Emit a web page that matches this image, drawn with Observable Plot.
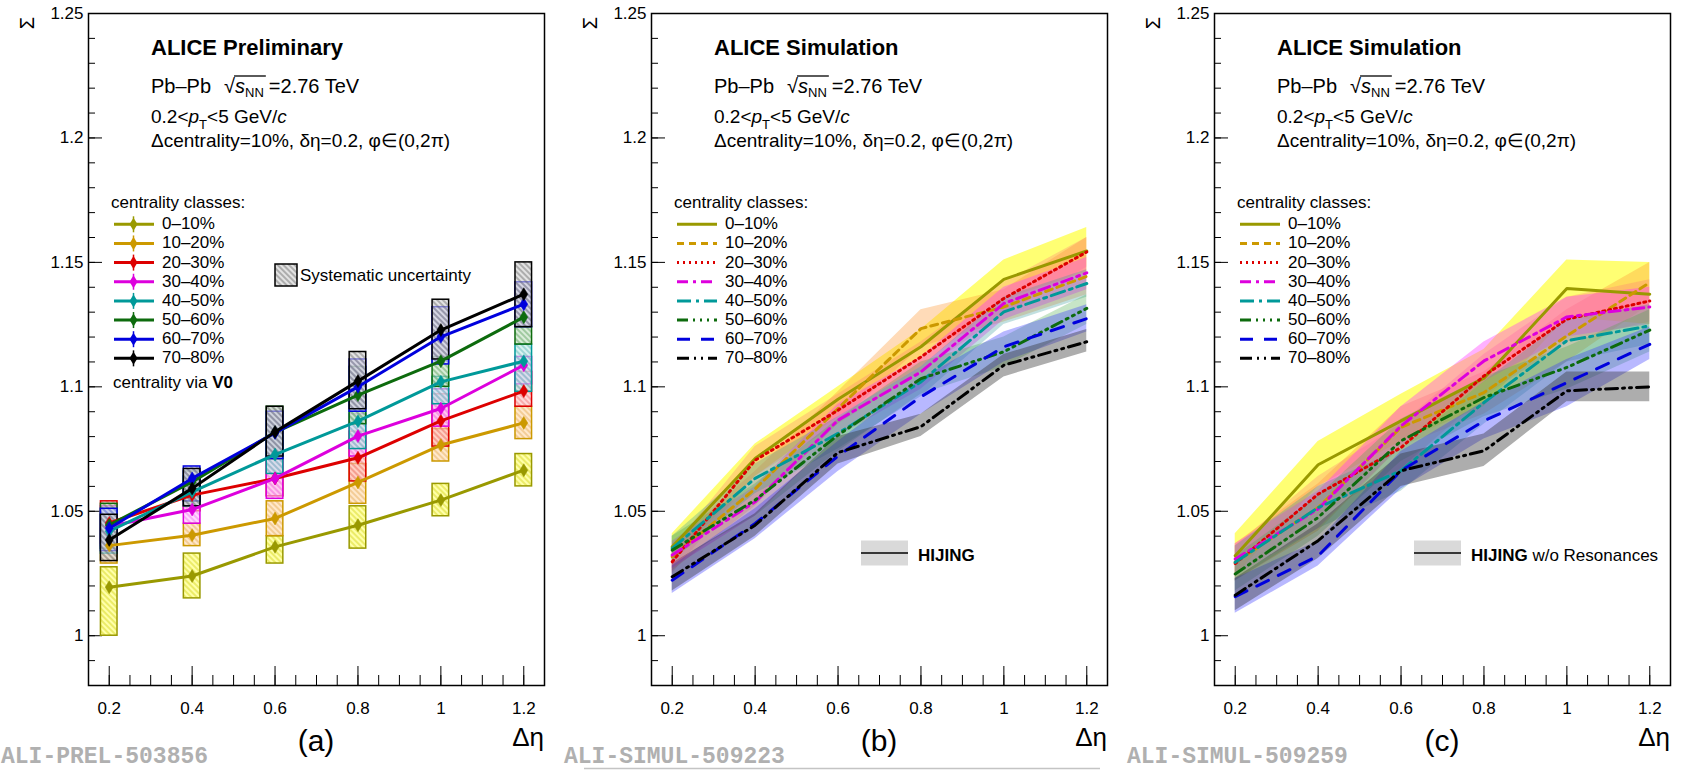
<!DOCTYPE html>
<html>
<head>
<meta charset="utf-8">
<script src="https://cdn.jsdelivr.net/npm/d3@7"></script>
<script src="https://cdn.jsdelivr.net/npm/@observablehq/plot@0.6"></script>
<style>
  body { margin: 0; background: #fff; }
  #root { position: relative; width: 1690px; height: 771px; overflow: hidden; background: #fff; }
  .panel { position: absolute; top: 0; }
  .panel svg { display: block; }
</style>
</head>
<body>
<svg width="0" height="0" style="position:absolute"><defs id="defs"></defs></svg>
<div id="root"></div>
<script>
// ---------------- data ----------------
const deltaEta = [0.2, 0.4, 0.6, 0.8, 1.0, 1.2];
const classes = ["0–10%", "10–20%", "20–30%", "30–40%", "40–50%", "50–60%", "60–70%", "70–80%"];

const xTickValues = [0.2, 0.4, 0.6, 0.8, 1, 1.2];
const xTickLabels = ["0.2", "0.4", "0.6", "0.8", "1", "1.2"];
const yTickValues = [1, 1.05, 1.1, 1.15, 1.2, 1.25];
const yTickLabels = ["1", "1.05", "1.1", "1.15", "1.2", "1.25"];

// (a) ALICE Preliminary: Sigma vs delta-eta, one row per centrality class
const aValues = [
  [1.0195, 1.0240, 1.0357, 1.0444, 1.0545, 1.0665],
  [1.0362, 1.0404, 1.0471, 1.0616, 1.0766, 1.0855],
  [1.0453, 1.0565, 1.0632, 1.0715, 1.0863, 1.0983],
  [1.0440, 1.0507, 1.0632, 1.0802, 1.0913, 1.1087],
  [1.0420, 1.0578, 1.0728, 1.0862, 1.1020, 1.1103],
  [1.0445, 1.0618, 1.0817, 1.0967, 1.1103, 1.1280],
  [1.0432, 1.0632, 1.0815, 1.1000, 1.1201, 1.1332],
  [1.0385, 1.0592, 1.0819, 1.1023, 1.1228, 1.1372]
];
// (a) systematic uncertainty boxes, lower / upper edges
const aSysLo = [
  [1.000, 1.015, 1.029, 1.035, 1.048, 1.060],
  [1.029, 1.036, 1.040, 1.053, 1.070, 1.079],
  [1.037, 1.050, 1.056, 1.062, 1.076, 1.092],
  [1.036, 1.045, 1.055, 1.072, 1.084, 1.101],
  [1.033, 1.052, 1.065, 1.075, 1.093, 1.098],
  [1.035, 1.054, 1.071, 1.085, 1.100, 1.117],
  [1.034, 1.054, 1.071, 1.090, 1.109, 1.124],
  [1.030, 1.052, 1.072, 1.091, 1.111, 1.124]
];
const aSysHi = [
  [1.0275, 1.033, 1.040, 1.052, 1.061, 1.073],
  [1.043, 1.045, 1.054, 1.069, 1.083, 1.092],
  [1.054, 1.062, 1.071, 1.082, 1.097, 1.106],
  [1.052, 1.054, 1.071, 1.089, 1.099, 1.112],
  [1.051, 1.064, 1.080, 1.090, 1.104, 1.117],
  [1.053, 1.066, 1.092, 1.108, 1.112, 1.124],
  [1.051, 1.068, 1.090, 1.111, 1.132, 1.142],
  [1.0486, 1.067, 1.092, 1.114, 1.135, 1.150]
];

// (b) HIJING
const bValues = [
  [1.0357, 1.0712, 1.0950, 1.1161, 1.1432, 1.1546],
  [1.0317, 1.0590, 1.0913, 1.1234, 1.1321, 1.1444],
  [1.0297, 1.0705, 1.0906, 1.1120, 1.1355, 1.1542],
  [1.0324, 1.0538, 1.0866, 1.1060, 1.1335, 1.1458],
  [1.0351, 1.0632, 1.0813, 1.1020, 1.1301, 1.1415],
  [1.0344, 1.0545, 1.0806, 1.1033, 1.1141, 1.1315],
  [1.0223, 1.0451, 1.0722, 1.0960, 1.1161, 1.1274],
  [1.0237, 1.0444, 1.0736, 1.0840, 1.1087, 1.1181]
];
const bBandLo = [
  [1.030, 1.064, 1.088, 1.108, 1.135, 1.146],
  [1.026, 1.052, 1.085, 1.116, 1.126, 1.137],
  [1.025, 1.064, 1.085, 1.106, 1.129, 1.148],
  [1.027, 1.048, 1.080, 1.099, 1.127, 1.139],
  [1.030, 1.057, 1.075, 1.096, 1.125, 1.136],
  [1.029, 1.048, 1.074, 1.097, 1.108, 1.125],
  [1.017, 1.039, 1.066, 1.089, 1.110, 1.122],
  [1.018, 1.040, 1.069, 1.080, 1.104, 1.114]
];
const bBandHi = [
  [1.041, 1.077, 1.100, 1.123, 1.151, 1.164],
  [1.037, 1.066, 1.098, 1.131, 1.139, 1.160],
  [1.035, 1.076, 1.097, 1.118, 1.142, 1.160],
  [1.038, 1.060, 1.093, 1.112, 1.140, 1.152],
  [1.040, 1.069, 1.088, 1.108, 1.136, 1.147],
  [1.040, 1.061, 1.087, 1.110, 1.120, 1.137],
  [1.028, 1.051, 1.078, 1.103, 1.122, 1.133],
  [1.029, 1.049, 1.080, 1.089, 1.113, 1.123]
];

// (c) HIJING w/o Resonances
const cValues = [
  [1.0321, 1.0687, 1.0863, 1.1035, 1.1395, 1.1372],
  [1.0295, 1.0515, 1.0837, 1.0977, 1.1205, 1.1419],
  [1.0290, 1.0569, 1.0756, 1.1044, 1.1272, 1.1345],
  [1.0308, 1.0509, 1.0843, 1.1104, 1.1281, 1.1321],
  [1.0295, 1.0515, 1.0663, 1.0937, 1.1185, 1.1245],
  [1.0248, 1.0475, 1.0783, 1.0957, 1.1078, 1.1228],
  [1.0157, 1.0321, 1.0663, 1.0863, 1.1017, 1.1171],
  [1.0163, 1.0382, 1.0663, 1.0743, 1.0984, 1.1000]
];
const cBandLo = [
  [1.024, 1.060, 1.078, 1.092, 1.128, 1.125],
  [1.022, 1.042, 1.076, 1.089, 1.110, 1.133],
  [1.022, 1.048, 1.067, 1.096, 1.118, 1.126],
  [1.024, 1.043, 1.076, 1.102, 1.120, 1.125],
  [1.022, 1.043, 1.058, 1.085, 1.110, 1.117],
  [1.018, 1.040, 1.070, 1.088, 1.099, 1.114],
  [1.009, 1.028, 1.059, 1.079, 1.092, 1.111],
  [1.010, 1.031, 1.060, 1.068, 1.094, 1.094]
];
const cBandHi = [
  [1.041, 1.078, 1.097, 1.115, 1.151, 1.150],
  [1.037, 1.061, 1.092, 1.106, 1.131, 1.150],
  [1.036, 1.064, 1.085, 1.113, 1.136, 1.143],
  [1.037, 1.058, 1.092, 1.118, 1.136, 1.140],
  [1.036, 1.060, 1.075, 1.102, 1.127, 1.133],
  [1.032, 1.056, 1.087, 1.104, 1.116, 1.131],
  [1.023, 1.038, 1.074, 1.094, 1.111, 1.124],
  [1.023, 1.045, 1.073, 1.081, 1.106, 1.106]
];

// ---------------- styles ----------------
const FONT = '"Liberation Sans", Arial, Helvetica, sans-serif';
const lineColors = ["#999900", "#cc9900", "#dd0000", "#dd00dd", "#009999", "#0d6b0d", "#0000dd", "#000000"];
const hatchBg    = ["#ffff70", "#ffd9a8", "#ffc0c0", "#ffc0ff", "#c0e8e8", "#c0e0c0", "#c8c8ff", "#d0d0d0"];
const hatchLine  = ["#cccc00", "#e0a040", "#ee6060", "#ee60ee", "#40aaaa", "#409040", "#5050ee", "#555555"];
const bandColors = ["#ffff00", "#ff9933", "#ff7777", "#ff33ff", "#339999", "#44aa44", "#3333ff", "#333333"];
const bandOpacity = [0.55, 0.35, 0.3, 0.38, 0.3, 0.3, 0.35, 0.4];
const dashes = [null, "7,5", "2,4", "11,5,3,5", "14,5,3,5", "11,5,2,5,2,5,2,5", "13,11", "12,5,2,5,2,5"];
const boxHalf = 0.02;

// hatch patterns for systematic boxes
const defs = d3.select("#defs");
lineColors.forEach((c, i) => {
  const p = defs.append("pattern").attr("id", "hatch" + i)
    .attr("patternUnits", "userSpaceOnUse").attr("width", 4).attr("height", 4)
    .attr("patternTransform", "rotate(-45)");
  p.append("rect").attr("width", 4).attr("height", 4).attr("fill", hatchBg[i]).attr("fill-opacity", 0.6);
  p.append("line").attr("x1", 1).attr("y1", 0).attr("x2", 1).attr("y2", 4)
    .attr("stroke", hatchLine[i]).attr("stroke-width", 1.1).attr("stroke-opacity", 0.7);
});

const thinDiamond = {
  draw(ctx, size) {
    const r = Math.sqrt(size / Math.PI);
    ctx.moveTo(0, -r * 1.3); ctx.lineTo(r * 0.8, 0); ctx.lineTo(0, r * 1.3); ctx.lineTo(-r * 0.8, 0); ctx.closePath();
  }
};

function tidy(values, lo, hi) {
  const out = [];
  values.forEach((row, s) => row.forEach((v, i) => out.push({s, x: deltaEta[i], y: v, lo: lo[s][i], hi: hi[s][i]})));
  return out;
}

const yMinor = d3.range(98, 126).map(d => d / 100);
const xMinor = d3.range(3, 26).map(d => d / 20);

function axisMarks() {
  return [
    Plot.axisY(yMinor, {tickSize: -7, tickFormat: () => "", label: null}),
    Plot.axisY(yTickValues, {tickSize: -14, tickFormat: () => "", label: null}),
    Plot.axisY(yTickValues, {tickSize: 0, tickPadding: 5, tickFormat: d => yTickLabels[yTickValues.indexOf(d)], label: null, fontSize: 17}),
    Plot.axisX(xMinor, {tickSize: -10, tickFormat: () => "", label: null}),
    Plot.axisX(xTickValues, {tickSize: -19, tickFormat: () => "", label: null}),
    Plot.axisX(xTickValues, {tickSize: 0, tickPadding: 16, tickFormat: d => xTickLabels[xTickValues.indexOf(d)], label: null, fontSize: 17})
  ];
}

function makePlot(width, marks) {
  return Plot.plot({
    width, height: 771,
    marginLeft: 88, marginRight: width - 544, marginTop: 13, marginBottom: 86,
    x: {domain: [0.15, 1.25]},
    y: {domain: [0.98, 1.25]},
    style: {fontFamily: FONT, fontSize: "17px", color: "black", background: "transparent", overflow: "visible"},
    marks: [...axisMarks(), ...marks, Plot.frame({stroke: "black", strokeWidth: 1.5})]
  });
}

function panelA() {
  const data = tidy(aValues, aSysLo, aSysHi);
  const marks = [];
  classes.forEach((c, s) => {
    marks.push(Plot.rect(data.filter(d => d.s === s), {
      x1: d => d.x - boxHalf, x2: d => d.x + boxHalf, y1: "lo", y2: "hi",
      fill: `url(#hatch${s})`, stroke: lineColors[s], strokeWidth: 1.5
    }));
  });
  classes.forEach((c, s) => {
    const d = data.filter(d => d.s === s);
    marks.push(Plot.line(d, {x: "x", y: "y", stroke: lineColors[s], strokeWidth: 3}));
    marks.push(Plot.dot(d, {x: "x", y: "y", r: 5, symbol: thinDiamond, fill: lineColors[s], stroke: lineColors[s], strokeWidth: 0.5}));
  });
  return makePlot(563, marks);
}

function panelSim(width, values, lo, hi) {
  const data = tidy(values, lo, hi);
  const marks = [];
  classes.forEach((c, s) => {
    marks.push(Plot.areaY(data.filter(d => d.s === s), {x: "x", y1: "lo", y2: "hi", fill: bandColors[s], fillOpacity: bandOpacity[s]}));
  });
  classes.forEach((c, s) => {
    const opts = {x: "x", y: "y", stroke: lineColors[s], strokeWidth: 3};
    if (dashes[s]) opts.strokeDasharray = dashes[s];
    marks.push(Plot.line(data.filter(d => d.s === s), opts));
  });
  return makePlot(width, marks);
}

// ---------------- annotations ----------------
function annotate(svg, cfg) {
  const g = d3.select(svg).append("g").attr("font-family", FONT).attr("fill", "black").attr("text-anchor", "start");
  // y axis title
  g.append("text").attr("transform", "translate(27,23) rotate(-90)")
    .attr("text-anchor", "middle").attr("dominant-baseline", "central").attr("font-size", 20).text("Σ");
  // header block
  g.append("text").attr("x", 151).attr("y", 55).attr("font-size", 22).attr("font-weight", "bold").text(cfg.title);
  const t = g.append("text").attr("x", 151).attr("y", 93).attr("font-size", 20);
  t.append("tspan").text("Pb–Pb");
  t.append("tspan").attr("dx", 13).text("√");
  const s1 = t.append("tspan").attr("font-style", "italic").text("s");
  const nn = t.append("tspan").attr("font-size", 13).attr("dy", 4).text("NN");
  t.append("tspan").attr("dy", -4).attr("dx", 5).text("=2.76 TeV");
  // overline of the square root
  const x0 = 151 + t.node().getSubStringLength(0, 6) + 13 - 1;
  const ovw = s1.node().getComputedTextLength() + nn.node().getComputedTextLength() + 3;
  g.append("line").attr("x1", x0).attr("x2", x0 + ovw).attr("y1", 76).attr("y2", 76).attr("stroke", "black").attr("stroke-width", 1.3);

  const p = g.append("text").attr("x", 151).attr("y", 123).attr("font-size", 19);
  p.append("tspan").text("0.2<");
  p.append("tspan").attr("font-style", "italic").text("p");
  p.append("tspan").attr("font-size", 13).attr("dy", 6).text("T");
  p.append("tspan").attr("dy", -6).text("<5 GeV/");
  p.append("tspan").attr("font-style", "italic").text("c");
  g.append("text").attr("x", 151).attr("y", 147).attr("font-size", 19).text("Δcentrality=10%, δη=0.2, φ∈(0,2π)");

  // legend
  g.append("text").attr("x", 111).attr("y", 208).attr("font-size", 17).text("centrality classes:");
  classes.forEach((c, i) => {
    const y = 224.3 + i * 19.15;
    const ln = g.append("line").attr("x1", 114).attr("x2", 154).attr("y1", y).attr("y2", y)
      .attr("stroke", lineColors[i]).attr("stroke-width", 3);
    if (cfg.kind === "sim" && dashes[i]) ln.attr("stroke-dasharray", dashes[i]);
    if (cfg.kind === "data") {
      g.append("line").attr("x1", 133.5).attr("x2", 133.5).attr("y1", y - 8).attr("y2", y + 8)
        .attr("stroke", lineColors[i]).attr("stroke-width", 1.5);
      g.append("path").attr("d", `M133.5,${y - 6.5}L137.5,${y}L133.5,${y + 6.5}L129.5,${y}Z`).attr("fill", lineColors[i]);
    }
    g.append("text").attr("x", 162).attr("y", y + 5).attr("font-size", 17).text(c);
  });

  if (cfg.kind === "data") {
    const v = g.append("text").attr("x", 113).attr("y", 388).attr("font-size", 17);
    v.append("tspan").text("centrality via ");
    v.append("tspan").attr("font-weight", "bold").text("V0");
    g.append("rect").attr("x", 275).attr("y", 264).attr("width", 22).attr("height", 22)
      .attr("fill", "url(#hatch7)").attr("stroke", "black").attr("stroke-width", 1.5);
    g.append("text").attr("x", 300).attr("y", 281).attr("font-size", 17).text("Systematic uncertainty");
  } else {
    g.append("rect").attr("x", cfg.boxX).attr("y", 540.5).attr("width", 47).attr("height", 25).attr("fill", "#d9d9d9");
    g.append("line").attr("x1", cfg.boxX).attr("x2", cfg.boxX + 47).attr("y1", 553).attr("y2", 553)
      .attr("stroke", "black").attr("stroke-width", 1.5);
    const h = g.append("text").attr("x", cfg.boxX + 57).attr("y", 560.5).attr("font-size", 17);
    h.append("tspan").attr("font-weight", "bold").text("HIJING");
    if (cfg.extra) h.append("tspan").text(" " + cfg.extra);
  }

  // bottom labels
  g.append("text").attr("x", 316).attr("y", 751).attr("text-anchor", "middle").attr("font-size", 30).text(cfg.tag);
  g.append("text").attr("x", 544).attr("y", 746).attr("text-anchor", "end").attr("font-size", 26).text("Δη");
  g.append("text").attr("x", 1).attr("y", 763).attr("font-family", '"Liberation Mono", "Courier New", monospace')
    .attr("font-weight", "bold").attr("font-size", 23).attr("fill", "#b0b0b0").text(cfg.id);
  if (cfg.underline) {
    g.append("line").attr("x1", 21).attr("x2", 537).attr("y1", 768.5).attr("y2", 768.5)
      .attr("stroke", "#c4c4c4").attr("stroke-width", 1.5);
  }
}

const root = document.getElementById("root");
const cfgs = [
  {left: 0, make: () => panelA(), title: "ALICE Preliminary", tag: "(a)", id: "ALI-PREL-503856", kind: "data"},
  {left: 563, make: () => panelSim(563, bValues, bBandLo, bBandHi), title: "ALICE Simulation", tag: "(b)", id: "ALI-SIMUL-509223", kind: "sim", boxX: 298, extra: null, underline: true},
  {left: 1126, make: () => panelSim(564, cValues, cBandLo, cBandHi), title: "ALICE Simulation", tag: "(c)", id: "ALI-SIMUL-509259", kind: "sim", boxX: 288, extra: "w/o Resonances"}
];
cfgs.forEach(cfg => {
  const div = document.createElement("div");
  div.className = "panel";
  div.style.left = cfg.left + "px";
  root.appendChild(div);
  const svg = cfg.make();
  div.appendChild(svg);
  annotate(svg, cfg);
});
</script>
</body>
</html>
